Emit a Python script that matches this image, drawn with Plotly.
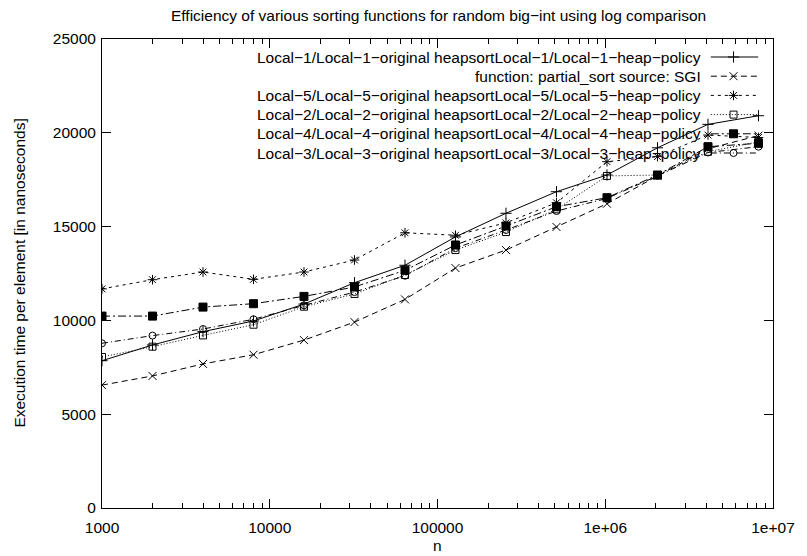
import plotly.graph_objects as go

# ---------------- data ----------------
n_values = [1000, 2000, 4000, 8000, 16000, 32000, 64000, 128000,
            256000, 512000, 1024000, 2048000, 4096000, 8192000]

local1 = [7850, 8690, 9400, 9970, 10870, 12010, 12940, 14450,
          15710, 16860, 17750, 19200, 20450, 20910]
sgi = [6550, 7040, 7680, 8170, 8950, 9910, 11120, 12790,
       13750, 14980, 16220, 17700, 19150, 19850]
local5 = [11680, 12170, 12580, 12190, 12580, 13220, 14670, 14540,
          15200, 16270, 18460, 18730, 19880, 19750]
local2 = [8050, 8600, 9200, 9770, 10730, 11410, 12420, 13750,
          14710, 15920, 17700, 17750, 18990, 19520]
local4 = [10230, 10230, 10710, 10890, 11280, 11780, 12670, 14020,
          15030, 16060, 16540, 17750, 19260, 19440]
local3 = [8780, 9190, 9540, 10060, 10800, 11510, 12380, 13850,
          14820, 15830, 16500, 17700, 18950, 19260]

series_names = [
    "Local\u22121/Local\u22121\u2212original heapsortLocal\u22121/Local\u22121\u2212heap\u2212policy",
    "function: partial_sort source: SGI",
    "Local\u22125/Local\u22125\u2212original heapsortLocal\u22125/Local\u22125\u2212heap\u2212policy",
    "Local\u22122/Local\u22122\u2212original heapsortLocal\u22122/Local\u22122\u2212heap\u2212policy",
    "Local\u22124/Local\u22124\u2212original heapsortLocal\u22124/Local\u22124\u2212heap\u2212policy",
    "Local\u22123/Local\u22123\u2212original heapsortLocal\u22123/Local\u22123\u2212heap\u2212policy",
]
series_values = [local1, sgi, local5, local2, local4, local3]

x_tick_vals = [1000, 10000, 100000, 1000000, 10000000]
x_tick_text = ["1000", "10000", "100000", "1e+06", "1e+07"]
y_tick_vals = [0, 5000, 10000, 15000, 20000, 25000]
y_tick_text = ["0", "5000", "10000", "15000", "20000", "25000"]

title_text = "Efficiency of various sorting functions for random big\u2212int using log comparison"
x_title = "n"
y_title = "Execution time per element [in nanoseconds]"

# ---------------- styles ----------------
dashes = ["solid", "6px,4px", "3px,4px", "1px,2px", "8px,3px,2px,3px", "6px,3px,1px,3px"]
symbols = ["cross-thin", "x-thin", "asterisk-open", "square-open", "square", "circle-open"]
sizes = [8, 8, 8, 7, 8, 7]

FONT = "Liberation Sans, Arial, Helvetica, sans-serif"
FS = 15.5
W, H = 807, 556
L, R, T, B = 102, 25, 39, 48
PW, PH = W - L - R, H - T - B

fig = go.Figure()

for name, vals, dash, sym, sz in zip(series_names, series_values, dashes, symbols, sizes):
    fig.add_trace(go.Scatter(
        x=n_values, y=vals, mode="lines+markers", name=name,
        line=dict(color="black", width=1, dash=dash),
        marker=dict(symbol=sym, size=sz, color="black",
                    line=dict(color="black", width=1)),
        showlegend=False,
    ))

# custom gnuplot-like key (text right-aligned, sample on its right)
def px_x(px):
    return (px - L) / PW

def px_y(py):
    return 1 - (py - T) / PH

key_text_right = px_x(711)
key_line_l, key_line_r, key_mark = px_x(719), px_x(767), px_x(742)
annotations = []
for i, (name, dash, sym, sz) in enumerate(zip(series_names, dashes, symbols, sizes)):
    yy = px_y(57 + 19.2 * i)
    fig.add_trace(go.Scatter(
        x=[key_line_l, key_line_r], y=[yy, yy], mode="lines",
        line=dict(color="black", width=1, dash=dash),
        xaxis="x2", yaxis="y2", showlegend=False, hoverinfo="skip"))
    fig.add_trace(go.Scatter(
        x=[key_mark], y=[yy], mode="markers",
        marker=dict(symbol=sym, size=sz, color="black", line=dict(color="black", width=1)),
        xaxis="x2", yaxis="y2", showlegend=False, hoverinfo="skip"))
    annotations.append(dict(text=name, x=key_text_right, y=yy, xref="x2", yref="y2",
                            xanchor="right", yanchor="middle", showarrow=False,
                            font=dict(family=FONT, size=FS, color="black")))

annotations.append(dict(text=x_title, xref="paper", yref="paper", x=0.5,
                        y=-(545 - (H - B)) / PH, xanchor="center", yanchor="middle",
                        showarrow=False, font=dict(family=FONT, size=FS, color="black")))
annotations.append(dict(text=y_title, xref="paper", yref="paper", x=(18 - L) / PW,
                        y=0.5, xanchor="center", yanchor="middle", textangle=-90,
                        showarrow=False, font=dict(family=FONT, size=FS, color="black")))
annotations.append(dict(text=title_text, xref="paper", yref="paper", x=px_x(443),
                        y=1 + (T - 16) / PH, xanchor="center", yanchor="middle",
                        showarrow=False, font=dict(family=FONT, size=FS, color="black")))

minor_vals = [m * d for d in [1000, 10000, 100000, 1000000] for m in range(2, 10)]

fig.update_layout(
    width=W, height=H, autosize=False,
    margin=dict(l=L, r=R, t=T, b=B),
    paper_bgcolor="white", plot_bgcolor="white",
    font=dict(family=FONT, size=FS, color="black"),
    annotations=annotations,
    xaxis=dict(type="log", range=[3, 7], tickvals=x_tick_vals, ticktext=x_tick_text,
               ticks="inside", ticklen=9, tickwidth=1, tickcolor="black",
               showline=True, linecolor="black", linewidth=1, mirror="ticks",
               showgrid=False, zeroline=False, ticklabelstandoff=5,
               minor=dict(tickvals=minor_vals, ticks="inside", ticklen=5,
                          tickcolor="black", tickwidth=1, showgrid=False),
               tickfont=dict(family=FONT, size=FS, color="black")),
    yaxis=dict(range=[0, 25000], tickvals=y_tick_vals, ticktext=y_tick_text,
               ticks="inside", ticklen=9, tickwidth=1, tickcolor="black",
               showline=True, linecolor="black", linewidth=1, mirror="ticks",
               showgrid=False, zeroline=False, ticklabelstandoff=2,
               tickfont=dict(family=FONT, size=FS, color="black")),
    xaxis2=dict(overlaying="x", range=[0, 1], visible=False, fixedrange=True),
    yaxis2=dict(overlaying="y", range=[0, 1], visible=False, fixedrange=True),
)

fig.write_html("out.html")
